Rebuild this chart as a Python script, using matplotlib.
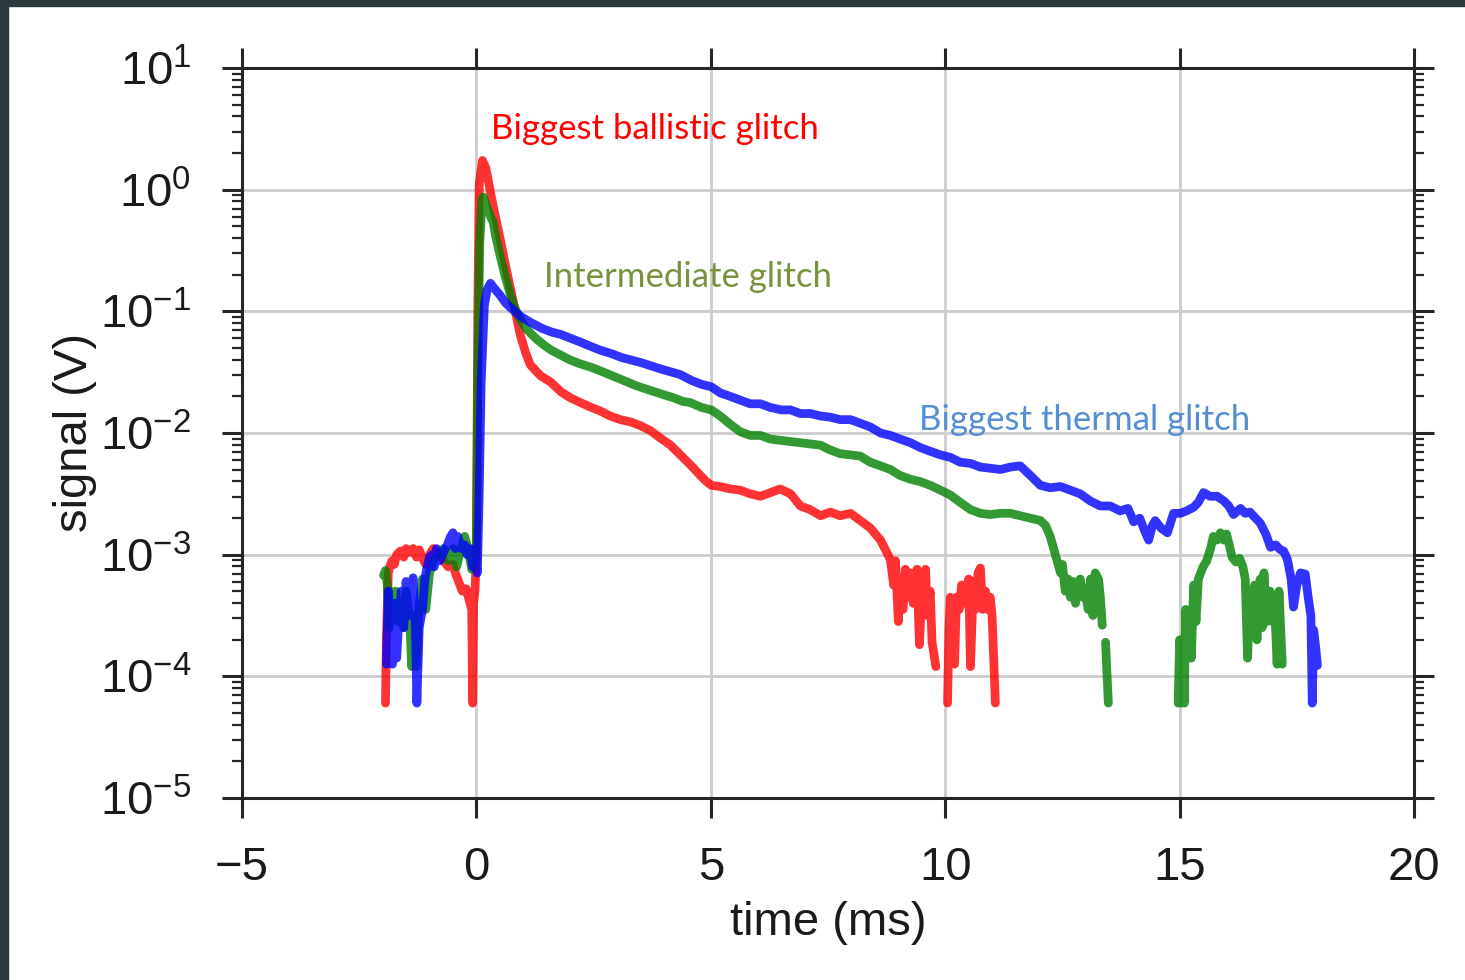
import numpy as np
import matplotlib
matplotlib.use("Agg")
import matplotlib.pyplot as plt
from matplotlib.patches import Rectangle
from matplotlib.ticker import LogLocator, NullFormatter, FixedLocator

plt.rcParams['font.family'] = ['Liberation Sans', 'DejaVu Sans']
plt.rcParams['mathtext.fontset'] = 'custom'
plt.rcParams['mathtext.rm'] = 'Liberation Sans'
plt.rcParams['mathtext.it'] = 'Liberation Sans:italic'
plt.rcParams['mathtext.bf'] = 'Liberation Sans:bold'

# ---------------- data (time in ms, signal as log10 of volts) ----------------
NAN = np.nan
red_t = [-1.94, -1.92, -1.88, -1.85, -1.80, -1.75, -1.70, -1.62, -1.55, -1.50, -1.42, -1.35,
         -1.28, -1.22, -1.15, -1.08, -1.00, -0.92, -0.85, -0.78, -0.70, -0.60, -0.50, -0.45,
         -0.38, -0.30, -0.22, -0.15, -0.10, -0.08, -0.06, -0.03, 0.00, 0.03, 0.06, 0.13,
         0.20, 0.28, 0.36, 0.51, 0.62, 0.73, 0.83, 0.94, 1.05, 1.15, 1.37, 1.58, 1.80, 2.00,
         2.22, 2.45, 2.65, 2.85, 3.07, 3.30, 3.50, 3.71, 3.92, 4.14, 4.35, 4.56, 4.78, 4.88,
         5.01, 5.20, 5.42, 5.63, 5.84, 6.06, 6.27, 6.48, 6.70, 6.91, 7.12, 7.34, 7.55, 7.76,
         7.98, 8.19, 8.40, 8.62, 8.83, 8.90, 8.94, 9.00, 9.04, 9.10, 9.15, 9.20, 9.26, 9.32,
         9.40, 9.45, 9.50, 9.58, 9.62, 9.68, 9.72, 9.80, 9.90,
         10.05, 10.08, 10.11, 10.16, 10.20, 10.24, 10.30, 10.35, 10.43, 10.50, 10.54, 10.60,
         10.64, 10.70, 10.75, 10.80, 10.86, 10.90, 10.96, 11.00, 11.07]
red_v = [-4.22, -3.70, -3.15, -3.10, -3.05, -3.08, -3.00, -2.97, -3.02, -2.95, -2.98, -2.95,
         -3.02, -2.96, -3.03, -3.08, -3.00, -2.95, -3.00, -3.00, -3.05, -3.10, -3.08, -3.15,
         -3.22, -3.30, -3.28, -3.38, -3.45, -4.22, -3.40, -3.30, -3.00, -1.00, 0.05, 0.24,
         0.18, 0.02, -0.14, -0.41, -0.62, -0.82, -1.00, -1.20, -1.34, -1.44, -1.53, -1.58,
         -1.66, -1.71, -1.75, -1.79, -1.82, -1.86, -1.89, -1.91, -1.94, -1.98, -2.04, -2.10,
         -2.18, -2.26, -2.35, -2.39, -2.43, -2.44, -2.46, -2.47, -2.50, -2.52, -2.49, -2.46,
         -2.50, -2.60, -2.63, -2.68, -2.65, -2.68, -2.66, -2.72, -2.78, -2.88, -3.04, -3.25,
         -3.05, -3.55, -3.20, -3.45, -3.12, -3.35, -3.15, -3.40, -3.12, -3.74, -3.30, -3.12,
         -3.50, -3.30, -3.72, -3.92, NAN,
         -4.22, -3.60, -3.35, -3.45, -3.90, -3.35, -3.45, -3.25, -3.40, -3.20, -3.92, -3.22,
         -3.45, -3.15, -3.11, -3.45, -3.30, -3.45, -3.35, -3.50, -4.22]

green_t = [-1.98, -1.94, -1.90, -1.86, -1.83, -1.78, -1.72, -1.66, -1.60, -1.55, -1.50, -1.42,
           -1.38, -1.33, -1.28, -1.22, -1.15, -1.08, -1.00, -0.92, -0.80, -0.70, -0.60, -0.50,
           -0.42, -0.35, -0.25, -0.18, -0.10, -0.04, 0.00, 0.03, 0.07, 0.12, 0.15, 0.20, 0.30,
           0.36, 0.41, 0.51, 0.62, 0.73, 0.83, 0.94, 1.08, 1.26, 1.45, 1.60, 1.80, 2.00, 2.20,
           2.45, 2.65, 2.90, 3.15, 3.40, 3.71, 3.95, 4.20, 4.40, 4.56, 4.80, 5.01, 5.20, 5.42,
           5.63, 5.84, 6.06, 6.27, 6.48, 6.70, 6.91, 7.12, 7.34, 7.55, 7.76, 7.98, 8.19, 8.40,
           8.62, 8.83, 9.04, 9.26, 9.47, 9.68, 9.90, 10.11, 10.32, 10.54, 10.75, 10.96, 11.18,
           11.39, 11.60, 11.82, 12.03, 12.14, 12.24, 12.35, 12.46, 12.50, 12.56, 12.62, 12.67,
           12.72, 12.78, 12.83, 12.88, 12.94, 12.99, 13.05, 13.10, 13.15, 13.20, 13.27, 13.31,
           13.35, 13.38, 13.42, 13.48, 13.60,
           14.97, 15.00, 15.03, 15.06, 15.10, 15.13, 15.17, 15.20, 15.25, 15.30, 15.35, 15.40,
           15.45, 15.50, 15.58, 15.66, 15.72, 15.80, 15.87, 15.94, 16.00, 16.06, 16.12, 16.20,
           16.28, 16.35, 16.40, 16.45, 16.50, 16.55, 16.60, 16.65, 16.72, 16.76, 16.80, 16.86,
           16.93, 16.98, 17.02, 17.08, 17.12, 17.19]
green_v = [-3.17, -3.13, -3.25, -3.60, -3.30, -3.50, -3.30, -3.55, -3.40, -3.60, -3.30, -3.55,
           -3.92, -3.50, -3.92, -3.40, -3.20, -3.45, -3.15, -3.05, -3.00, -2.95, -3.05, -2.95,
           -3.10, -2.98, -2.85, -2.95, -3.12, -3.05, -2.95, -1.50, -0.45, -0.08, -0.06, -0.12,
           -0.22, -0.27, -0.38, -0.55, -0.72, -0.87, -0.98, -1.07, -1.15, -1.22, -1.28, -1.32,
           -1.36, -1.40, -1.43, -1.46, -1.49, -1.53, -1.57, -1.61, -1.65, -1.68, -1.71, -1.74,
           -1.75, -1.79, -1.81, -1.86, -1.93, -1.99, -2.02, -2.02, -2.05, -2.06, -2.07, -2.08,
           -2.09, -2.10, -2.14, -2.17, -2.18, -2.19, -2.24, -2.27, -2.30, -2.35, -2.38, -2.40,
           -2.43, -2.47, -2.51, -2.57, -2.63, -2.66, -2.67, -2.66, -2.66, -2.68, -2.70, -2.72,
           -2.76, -2.85, -3.00, -3.15, -3.08, -3.30, -3.20, -3.35, -3.22, -3.40, -3.25, -3.20,
           -3.35, -3.30, -3.45, -3.20, -3.50, -3.15, -3.20, -3.35, -3.58, NAN, -3.72, -4.22, NAN,
           -4.22, -3.70, -4.22, -3.75, -4.22, -3.45, -3.75, -3.55, -3.85, -3.25, -3.55, -3.20,
           -3.15, -3.10, -3.05, -2.95, -2.85, -2.88, -2.82, -2.88, -2.83, -2.92, -3.02, -3.06,
           -3.03, -3.10, -3.20, -3.85, -3.30, -3.60, -3.25, -3.70, -3.20, -3.60, -3.15, -3.55,
           -3.30, -3.55, -3.35, -3.90, -3.30, -3.90]

blue_t = [-1.92, -1.88, -1.83, -1.79, -1.75, -1.70, -1.65, -1.60, -1.55, -1.50, -1.45, -1.40,
          -1.35, -1.30, -1.27, -1.22, -1.15, -1.10, -1.05, -1.00, -0.95, -0.90, -0.85, -0.78,
          -0.70, -0.62, -0.55, -0.50, -0.45, -0.40, -0.32, -0.25, -0.20, -0.13, -0.08, -0.03,
          0.02, 0.06, 0.10, 0.17, 0.23, 0.30, 0.40, 0.51, 0.62, 0.73, 0.94, 1.15, 1.40, 1.60,
          1.80, 2.00, 2.20, 2.45, 2.65, 2.90, 3.10, 3.50, 3.90, 4.35, 4.60, 4.80, 5.01, 5.20,
          5.42, 5.63, 5.84, 6.06, 6.27, 6.50, 6.70, 6.91, 7.12, 7.34, 7.55, 7.76, 7.98, 8.19,
          8.40, 8.62, 8.83, 9.04, 9.26, 9.47, 9.68, 9.90, 10.11, 10.32, 10.54, 10.75, 10.96,
          11.18, 11.39, 11.60, 11.82, 12.03, 12.24, 12.46, 12.67, 12.88, 13.10, 13.31, 13.52,
          13.73, 13.90, 14.02, 14.15, 14.25, 14.34, 14.42, 14.48, 14.60, 14.74, 14.87, 15.02,
          15.15, 15.30, 15.40, 15.51, 15.65, 15.80, 15.95, 16.05, 16.15, 16.30, 16.40, 16.50,
          16.62, 16.72, 16.85, 16.94, 17.05, 17.15, 17.22, 17.30, 17.38, 17.43, 17.50, 17.58,
          17.68, 17.75, 17.80, 17.83, 17.86, 17.90, 17.94]
blue_v = [-3.90, -3.30, -3.50, -3.90, -3.40, -3.85, -3.50, -3.30, -3.60, -3.22, -3.50, -3.30,
          -3.19, -3.60, -4.22, -3.60, -3.45, -3.20, -3.10, -3.02, -3.00, -3.10, -2.95, -3.05,
          -2.98, -2.92, -2.85, -2.82, -2.95, -2.85, -2.95, -2.92, -3.00, -2.95, -3.10, -2.98,
          -3.15, -2.50, -1.60, -0.95, -0.82, -0.77, -0.82, -0.87, -0.93, -0.97, -1.04, -1.09,
          -1.14, -1.17, -1.19, -1.22, -1.25, -1.29, -1.32, -1.35, -1.38, -1.42, -1.47, -1.52,
          -1.57, -1.60, -1.62, -1.67, -1.70, -1.73, -1.76, -1.76, -1.79, -1.81, -1.81, -1.84,
          -1.84, -1.86, -1.87, -1.89, -1.89, -1.92, -1.95, -2.00, -2.02, -2.05, -2.08, -2.12,
          -2.15, -2.18, -2.20, -2.24, -2.25, -2.28, -2.29, -2.30, -2.28, -2.27, -2.35, -2.43,
          -2.45, -2.44, -2.47, -2.50, -2.56, -2.60, -2.60, -2.64, -2.62, -2.73, -2.70, -2.80,
          -2.88, -2.76, -2.72, -2.78, -2.82, -2.66, -2.66, -2.64, -2.61, -2.57, -2.49, -2.52,
          -2.52, -2.56, -2.60, -2.67, -2.62, -2.66, -2.65, -2.70, -2.74, -2.84, -2.94, -2.92,
          -2.96, -2.97, -3.04, -3.20, -3.43, -3.25, -3.15, -3.16, -3.37, -3.50, -4.22, -3.62,
          -3.75, -3.91]

labels = ["Biggest ballistic glitch", "Intermediate glitch", "Biggest thermal glitch"]
label_pos_t = [0.32, 1.45, 9.45]
label_pos_v = [0.50, -0.72, -1.89]

x_ticks = [-5, 0, 5, 10, 15, 20]
# ---------------------------------------------------------------------------

W, H = 1465, 980
fig = plt.figure(figsize=(W / 100, H / 100), dpi=100)
fig.patch.set_facecolor('white')
ax = fig.add_axes([242 / W, 1 - 798 / H, (1414 - 242) / W, (798 - 68) / H])

line_kw = dict(lw=6.3, alpha=0.8, solid_joinstyle='round', solid_capstyle='round')
for t, v, c in [(red_t, red_v, 'r'), (green_t, green_v, 'g'), (blue_t, blue_v, 'b')]:
    ax.plot(t, 10 ** np.array(v, dtype=float), color=c, **line_kw)

ax.set_yscale('log')
ax.set_xlim(-5, 20)
ax.set_ylim(1e-5, 1e1)
ax.xaxis.set_major_locator(FixedLocator(x_ticks))
ax.yaxis.set_major_locator(LogLocator(base=10, numticks=20))
ax.yaxis.set_minor_locator(LogLocator(base=10, subs=np.arange(2, 10), numticks=20))
ax.yaxis.set_minor_formatter(NullFormatter())

ax.grid(True, which='major', color='#cccccc', lw=2.0)
ax.set_axisbelow(True)
for s in ax.spines.values():
    s.set_color('#262626')
    s.set_linewidth(2.2)

ax.tick_params(axis='both', which='major', direction='out', length=14.5, width=2.2,
               color='#262626', labelsize=34, labelcolor='#1a1a1a')
ax.tick_params(axis='y', which='minor', direction='out', length=7, width=1.6,
               color='#262626', left=True, right=True)
ax.tick_params(axis='x', which='major', top=True, bottom=True, pad=20)
ax.tick_params(axis='y', which='major', left=True, right=True, pad=22)

ax.set_xlabel('time (ms)', fontsize=34, color='#1a1a1a', labelpad=8)
ax.set_ylabel('signal (V)', fontsize=34, color='#1a1a1a', labelpad=2)

label_colors = ['#ff0000', '#77933c', '#558ed5']
for txt, tx, ty, col in zip(labels, label_pos_t, label_pos_v, label_colors):
    ax.text(tx, 10 ** ty, txt, color=col, fontsize=25, family=['Lato', 'DejaVu Sans'],
            ha='left', va='center')

# dark slide background edges
bg = '#2d3a3d'
fig.add_artist(Rectangle((0, 1 - 6 / H), 1, 6 / H, transform=fig.transFigure,
                         color=bg, zorder=10))
fig.add_artist(Rectangle((0, 0), 8 / W, 1, transform=fig.transFigure,
                         color=bg, zorder=10))

fig.savefig('out.png', dpi=100)
